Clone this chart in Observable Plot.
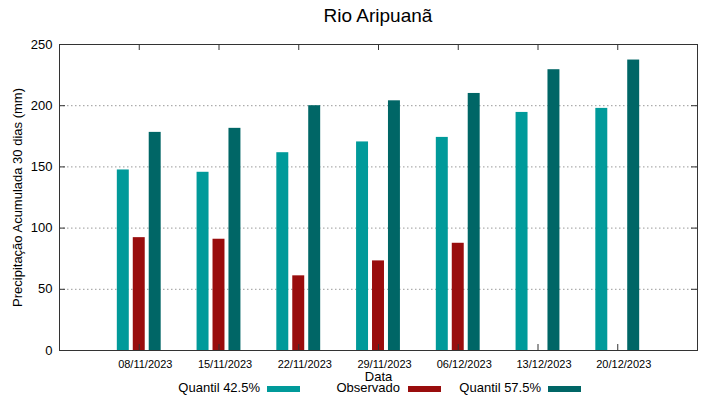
<!DOCTYPE html>
<html>
<head>
<meta charset="utf-8">
<script src="https://cdn.jsdelivr.net/npm/d3@7"></script>
<script src="https://cdn.jsdelivr.net/npm/@observablehq/plot@0.6"></script>
<style>
  body { margin: 0; background: #fff; }
  #wrap { position: relative; width: 719px; height: 399px; font-family: "Liberation Sans", Arial, sans-serif; color: #000; }
  #wrap svg { position: absolute; left: 0; top: 0; }
  #title { position: absolute; left: 59px; width: 638px; top: 5px; text-align: center; font-size: 19px; line-height: 22px; }
  .lg-text { position: absolute; font-size: 13px; line-height: 15px; top: 380px; text-align: right; white-space: nowrap; }
  .lg-sw { position: absolute; top: 385.5px; height: 6px; width: 33px; }
</style>
</head>
<body>
<div id="wrap">
  <div id="title">Rio Aripuanã</div>
</div>
<script>
// ---- data ----
const dates = ["08/11/2023","15/11/2023","22/11/2023","29/11/2023","06/12/2023","13/12/2023","20/12/2023"];
const q425 = [147.5, 145.6, 161.6, 170.4, 174.1, 194.5, 197.8];
const observado = [92.2, 90.9, 61.0, 73.2, 87.6, null, null];
const q575 = [178.2, 181.5, 200.0, 204.0, 210.0, 229.4, 237.3];
const yTicks = [0, 50, 100, 150, 200, 250];
const gridTicks = [50, 100, 150, 200];
const seriesNames = ["Quantil 42.5%", "Observado", "Quantil 57.5%"];
const seriesColors = ["#009a9a", "#990d0d", "#006666"];
const yLabel = "Precipitação Acumulada 30 dias (mm)";
const xLabel = "Data";

// ---- layout ----
const W = 719, H = 399;
const mL = 59, mR = 22, mT = 44, mB = 49;
const innerW = W - mL - mR, innerH = H - mT - mB;
const barW = 0.15, offsets = [-0.2, 0, 0.2];

const idx = dates.map((_, i) => i);
const rows = [];
[q425, observado, q575].forEach((arr, s) => {
  arr.forEach((v, i) => {
    if (v != null) rows.push({i, s, v, x1: i + offsets[s] - barW / 2, x2: i + offsets[s] + barW / 2});
  });
});

const chart = Plot.plot({
  width: W, height: H,
  marginLeft: mL, marginRight: mR, marginTop: mT, marginBottom: mB,
  style: {fontFamily: "'Liberation Sans', Arial, sans-serif", fontSize: "13px", background: "transparent", color: "#000"},
  x: {type: "linear", domain: [-1, 7], axis: null},
  y: {domain: [0, 250], axis: null},
  marks: [
    Plot.ruleY(gridTicks, {y: d => d, stroke: "#999", strokeDasharray: "1.5,2.5", strokeWidth: 1}),
    Plot.rectY(rows, {x1: "x1", x2: "x2", y1: 0, y2: "v", fill: d => seriesColors[d.s]}),
    // inward tick marks
    Plot.tickY(yTicks.slice(1, -1), {y: d => d, insetRight: innerW - 6, stroke: "#333"}),
    Plot.tickY(yTicks.slice(1, -1), {y: d => d, insetLeft: innerW - 6, stroke: "#333"}),
    Plot.tickX(idx, {x: d => d, insetTop: innerH - 6, stroke: "#333"}),
    Plot.tickX(idx, {x: d => d, insetBottom: innerH - 6, stroke: "#333"}),
    Plot.frame({stroke: "#333", strokeWidth: 1}),
    // tick labels
    Plot.text(yTicks, {y: d => d, text: d => String(d), frameAnchor: "left", dx: -7, textAnchor: "end", fontSize: 13}),
    Plot.text(idx, {x: d => d, text: d => dates[d], frameAnchor: "bottom", dy: 17, dx: 6, fontSize: 11}),
    // axis titles
    Plot.text([yLabel], {text: d => d, frameAnchor: "left", textAnchor: "middle", dx: -42, rotate: -90, fontSize: 13}),
    Plot.text([xLabel], {text: d => d, frameAnchor: "bottom", dy: 30, fontSize: 13})
  ]
});

const wrap = document.getElementById("wrap");
wrap.appendChild(chart);

// ---- legend (HTML, below plot area) ----
const textRight = [260, 400, 541];
const swLeft = [267, 408, 548];
seriesNames.forEach((name, s) => {
  const t = document.createElement("div");
  t.className = "lg-text";
  t.style.right = (W - textRight[s]) + "px";
  t.textContent = name;
  wrap.appendChild(t);
  const sw = document.createElement("div");
  sw.className = "lg-sw";
  sw.style.left = swLeft[s] + "px";
  sw.style.background = seriesColors[s];
  wrap.appendChild(sw);
});
</script>
</body>
</html>
